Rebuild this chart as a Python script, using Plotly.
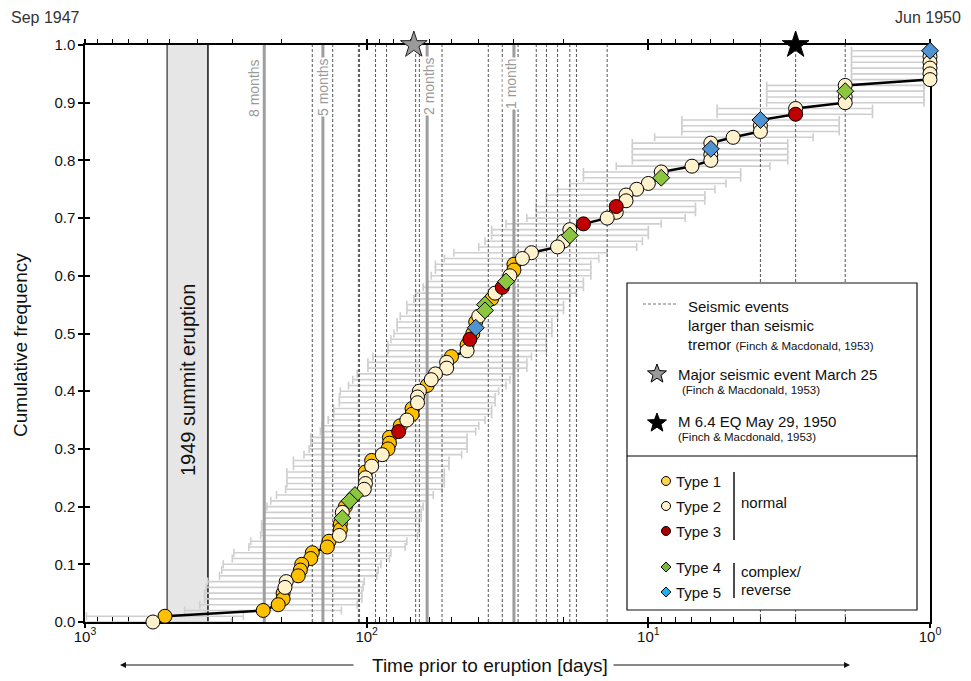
import math
import plotly.graph_objects as go

# ---------------- data ----------------
# time prior to eruption [days] for each sample, sorted (oldest first)
days = [574, 520, 233, 206, 198, 198, 195, 193, 175, 172,
        170, 158, 156, 138, 136, 125, 124, 124, 122, 122,
        119, 115, 110, 102, 101, 101, 101, 96, 96, 88,
        84, 83, 83, 77, 76, 72, 69, 69, 66, 66,
        65, 61, 59, 57, 52, 52, 50, 44, 44, 43,
        42, 41, 41, 40, 38, 38, 36, 35, 33, 32,
        31, 30, 30, 28, 26, 21, 20, 19, 19, 17,
        14, 13, 13, 12, 12, 11, 10, 9, 9, 7,
        6, 6, 6, 6, 5, 4, 4, 4, 3, 3,
        2, 2, 2, 2, 1, 1, 1, 1, 1, 1]

cum_freq = [0.00, 0.01, 0.02, 0.03, 0.04, 0.05, 0.06, 0.07, 0.08, 0.09,
            0.10, 0.11, 0.12, 0.13, 0.14, 0.15, 0.16, 0.17, 0.18, 0.19,
            0.20, 0.21, 0.22, 0.23, 0.24, 0.25, 0.26, 0.27, 0.28, 0.29,
            0.30, 0.31, 0.32, 0.33, 0.34, 0.35, 0.36, 0.37, 0.38, 0.39,
            0.40, 0.41, 0.42, 0.43, 0.44, 0.45, 0.46, 0.47, 0.48, 0.49,
            0.50, 0.51, 0.52, 0.53, 0.54, 0.55, 0.56, 0.57, 0.58, 0.59,
            0.60, 0.61, 0.62, 0.63, 0.64, 0.65, 0.66, 0.67, 0.68, 0.69,
            0.70, 0.71, 0.72, 0.73, 0.74, 0.75, 0.76, 0.77, 0.78, 0.79,
            0.80, 0.81, 0.82, 0.83, 0.84, 0.85, 0.86, 0.87, 0.88, 0.89,
            0.90, 0.91, 0.92, 0.93, 0.94, 0.95, 0.96, 0.97, 0.98, 0.99]

zoning_type = [2, 1, 1, 1, 1, 1, 2, 2, 1, 1,
               1, 1, 1, 1, 1, 2, 1, 1, 4, 2,
               1, 4, 4, 2, 2, 2, 1, 2, 1, 2,
               1, 1, 1, 3, 1, 2, 1, 1, 2, 2,
               2, 1, 2, 2, 2, 2, 1, 2, 1, 3,
               1, 5, 1, 2, 4, 4, 1, 2, 3, 4,
               2, 1, 1, 2, 2, 2, 2, 4, 2, 3,
               2, 2, 3, 2, 2, 2, 2, 4, 2, 2,
               2, 2, 5, 2, 2, 2, 2, 5, 3, 2,
               2, 2, 4, 2, 2, 2, 2, 2, 2, 5]

# uncertainty range of each sample [days]
range_old = [1091, 988, 443, 391, 376, 376, 371, 367, 333, 327,
             323, 300, 296, 262, 258, 238, 236, 236, 232, 232,
             226, 219, 209, 194, 192, 192, 192, 182, 182, 167,
             160, 158, 158, 146, 144, 137, 131, 131, 125, 125,
             124, 116, 112, 108, 99, 99, 95, 84, 84, 82,
             80, 78, 78, 76, 72, 72, 68, 67, 63, 61,
             59, 57, 57, 53, 49, 40, 38, 36, 36, 32,
             27, 25, 25, 23, 23, 21, 19, 17, 17, 13,
             11.4, 11.4, 11.4, 11.4, 9.5, 7.6, 7.6, 7.6, 5.7, 5.7,
             3.8, 3.8, 3.8, 3.8, 1.9, 1.9, 1.9, 1.9, 1.9, 1.9]
range_young = [302, 274, 123, 108, 104, 104, 103, 102, 92, 91,
               89, 83, 82, 73, 72, 66, 65, 65, 64, 64,
               63, 61, 58, 54, 53, 53, 53, 51, 51, 46,
               44, 44, 44, 41, 40, 38, 36, 36, 35, 35,
               34, 32, 31, 30, 27, 27, 26, 23, 23, 23,
               22, 22, 22, 21, 20, 20, 19, 18, 17, 17,
               16, 16, 16, 15, 14, 11, 10.5, 10, 10, 9,
               7.4, 6.8, 6.8, 6.3, 6.3, 5.8, 5.3, 4.7, 4.7, 3.7,
               3.2, 3.2, 3.2, 3.2, 2.6, 2.1, 2.1, 2.1, 1.6, 1.6,
               1.05, 1.05, 1.05, 1.05, 0.53, 0.53, 0.53, 0.53, 0.53, 0.53]

# seismic events larger than tremor [days before eruption]
seismic_days = [156, 132, 107, 106, 93, 85, 67, 65, 54, 37,
                33, 29, 25, 23, 21, 19, 18, 14, 4, 3, 2]
month_days = [231, 143, 61, 30]
month_labels = ["8 months", "5 months", "2 months", "1 month"]
summit_eruption_1949 = [511, 366]
major_event_day = [68]
eq_day = [3]

x_tickvals = [1000, 100, 10, 1]
x_ticktext = ["10<sup>3</sup>", "10<sup>2</sup>", "10<sup>1</sup>", "10<sup>0</sup>"]
x_minor = [m * 10 ** e for e in (0, 1, 2) for m in range(2, 10)]

type_colors = {1: "#FFC000", 2: "#FFF2CC", 3: "#C00000", 4: "#8CC63F", 5: "#4F93D3"}
legend_colors = {1: "#FFD24F", 2: "#FFF2CC", 3: "#A80000", 4: "#7DB83A", 5: "#1CB4E8"}

# ---------------- geometry helpers (plot area in window pixels) ----------------
PL, PR, PT, PB = 85, 930, 45, 622
BODY = 8            # default page margin around the figure
FIG_W, FIG_H = 963, 673


def fx(px):
    return (px - PL) / (PR - PL)


def fy(py):
    return (PB - py) / (PB - PT)


FONT = "Liberation Sans, Arial, sans-serif"

fig = go.Figure()

# 1949 summit eruption band
e0, e1 = summit_eruption_1949
fig.add_trace(go.Scatter(x=[e0, e1, e1, e0, e0], y=[0, 0, 1, 1, 0], mode="lines",
                         fill="toself", fillcolor="#e6e6e6", line=dict(width=0),
                         hoverinfo="skip"))
fig.add_trace(go.Scatter(x=[e0, e0], y=[0, 1], mode="lines",
                         line=dict(color="#555555", width=1.5), hoverinfo="skip"))
fig.add_trace(go.Scatter(x=[e1, e1], y=[0, 1], mode="lines",
                         line=dict(color="#111111", width=1.5), hoverinfo="skip"))

# uncertainty bars
fig.add_trace(go.Scatter(
    x=days, y=cum_freq, mode="markers",
    marker=dict(size=1, color="rgba(0,0,0,0)"),
    error_x=dict(type="data", symmetric=False,
                 array=[o - d for o, d in zip(range_old, days)],
                 arrayminus=[d - y for y, d in zip(range_young, days)],
                 color="#cfcfcf", thickness=1.6, width=4),
    hoverinfo="skip"))

# month reference lines
mx, my = [], []
for d in month_days:
    mx += [d, d, None]
    my += [0, 1, None]
fig.add_trace(go.Scatter(x=mx, y=my, mode="lines",
                         line=dict(color="#9e9e9e", width=3), hoverinfo="skip"))

# seismic events
sx, sy = [], []
for d in seismic_days:
    sx += [d, d, None]
    sy += [0, 1, None]
fig.add_trace(go.Scatter(x=sx, y=sy, mode="lines",
                         line=dict(color="#555555", width=1, dash="3px,2px"),
                         hoverinfo="skip"))

# cumulative curve
fig.add_trace(go.Scatter(x=days, y=cum_freq, mode="lines",
                         line=dict(color="black", width=2.5), hoverinfo="skip"))

# samples by type (lower ranks drawn on top)
for t in (1, 2, 3, 4, 5):
    idx = [i for i in range(len(days)) if zoning_type[i] == t][::-1]
    fig.add_trace(go.Scatter(
        x=[days[i] for i in idx], y=[cum_freq[i] for i in idx], mode="markers",
        cliponaxis=False,
        marker=dict(symbol="circle" if t <= 3 else "diamond",
                    size=14 if t <= 3 else 13,
                    color=type_colors[t], line=dict(color="black", width=1)),
        hoverinfo="skip"))

# stars on top axis
fig.add_trace(go.Scatter(x=major_event_day, y=[1.0], mode="markers", cliponaxis=False,
                         marker=dict(symbol="star", size=20, color="#9a9a9a",
                                     line=dict(color="#222", width=1)), hoverinfo="skip"))
fig.add_trace(go.Scatter(x=eq_day, y=[1.0], mode="markers", cliponaxis=False,
                         marker=dict(symbol="star", size=20, color="black",
                                     line=dict(color="black", width=1)), hoverinfo="skip"))

# dummy traces to realise the extra tick axes
for xa, ya in (("x2", "y"), ("x3", "y"), ("x4", "y"), ("x", "y2")):
    fig.add_trace(go.Scatter(x=[10], y=[0.5], xaxis=xa, yaxis=ya, mode="markers",
                             marker=dict(size=1, color="rgba(0,0,0,0)"), hoverinfo="skip"))

# ---------------- axes ----------------
base_x = dict(type="log", range=[3, 0], showgrid=False, zeroline=False, layer="below traces")
fig.update_layout(
    xaxis=dict(**base_x, showline=True, linecolor="black", linewidth=1.5, mirror=True,
               tickmode="array", tickvals=x_tickvals, ticktext=x_ticktext,
               ticks="inside", ticklen=5, tickwidth=1.5, tickcolor="black",
               tickfont=dict(family=FONT, size=15, color="#111"),
               minor=dict(tickmode="array", tickvals=x_minor, ticks="inside",
                          ticklen=5, tickwidth=1.3, tickcolor="black", showgrid=False)),
    xaxis2=dict(**base_x, overlaying="x", side="bottom", anchor="y", showline=False,
                tickmode="array", tickvals=x_tickvals, ticks="outside", ticklen=5,
                tickwidth=1.5, tickcolor="black", showticklabels=False),
    xaxis3=dict(**base_x, overlaying="x", side="top", anchor="y", showline=False,
                tickmode="array", tickvals=x_tickvals, ticks="outside", ticklen=5,
                tickwidth=1.5, tickcolor="black", showticklabels=False,
                minor=dict(tickmode="array", tickvals=x_minor, ticks="outside",
                           ticklen=5, tickwidth=1.3, tickcolor="black", showgrid=False)),
    xaxis4=dict(**base_x, overlaying="x", side="top", anchor="y", showline=False,
                tickmode="array", tickvals=x_tickvals, ticks="inside", ticklen=5,
                tickwidth=1.5, tickcolor="black", showticklabels=False),
    yaxis=dict(range=[0, 1], showgrid=False, zeroline=False, showline=True,
               linecolor="black", linewidth=1.5, mirror=True, layer="below traces",
               tickmode="linear", tick0=0, dtick=0.1, tickformat=".1f",
               ticks="outside", ticklen=5, tickwidth=1.5, tickcolor="black",
               tickfont=dict(family=FONT, size=15, color="#111")),
    yaxis2=dict(range=[0, 1], overlaying="y", side="left", anchor="x", showgrid=False,
                zeroline=False, showline=False, layer="below traces",
                tickmode="linear", tick0=0, dtick=0.1, ticks="inside", ticklen=5,
                tickwidth=1.5, tickcolor="black", showticklabels=False),
)

# ---------------- annotations ----------------
ann = []


def text(px, py, s, size=15, color="#111", xanchor="left", angle=0, bg=None):
    d = dict(xref="paper", yref="paper", x=fx(px), y=fy(py), text=s, showarrow=False,
             xanchor=xanchor, yanchor="middle", textangle=angle,
             font=dict(family=FONT, size=size, color=color))
    if bg:
        d["bgcolor"] = bg
        d["borderpad"] = 0
    ann.append(d)


text(45, 18, "Sep 1947", 16, "#333", "center")
text(928, 18, "Jun 1950", 16, "#333", "center")
text(490, 665, "Time prior to eruption [days]", 19, "#111", "center")
text(20, 345, "Cumulative frequency", 19, "#111", "center", -90)
text(188, 380, "1949 summit eruption", 20, "#111", "center", -90)

month_px = [254, 323, 429, 511]
month_py = [88, 87, 86, 84]
for lab, px, py in zip(month_labels, month_px, month_py):
    text(px, py, lab, 14, "#9a9a9a", "center", -90, None if lab == "8 months" else "white")

# arrows beside the x title
ann.append(dict(xref="paper", yref="paper", x=fx(120), y=fy(665), ax=235, ay=0, text="",
                showarrow=True, arrowhead=2, arrowsize=1, arrowwidth=1.2, arrowcolor="#111"))
ann.append(dict(xref="paper", yref="paper", x=fx(850), y=fy(665), ax=-238, ay=0, text="",
                showarrow=True, arrowhead=2, arrowsize=1, arrowwidth=1.2, arrowcolor="#111"))

# legend texts
small = "font-size:11.5px"
text(686, 306, "Seismic events")
text(686, 325, "larger than seismic")
text(686, 344, f"tremor <span style='{small}'>(Finch & Macdonald, 1953)</span>")
text(676, 374, "Major seismic event March 25")
text(680, 390, "(Finch & Macdonald, 1953)", 11.5)
text(676, 421, "M 6.4 EQ May 29, 1950")
text(676, 437, "(Finch & Macdonald, 1953)", 11.5)
for k, py in zip((1, 2, 3, 4, 5), (481, 506, 531, 567, 592)):
    text(674, py, f"Type {k}")
text(739, 502, "normal")
text(739, 571, "complex/")
text(739, 589, "reverse")

# ---------------- legend shapes ----------------
shapes = []


def pline(x0, y0, x1, y1, color="black", width=1.2, dash=None):
    s = dict(type="line", xref="paper", yref="paper", x0=fx(x0), y0=fy(y0), x1=fx(x1), y1=fy(y1),
             line=dict(color=color, width=width), layer="above")
    if dash:
        s["line"]["dash"] = dash
    shapes.append(s)


def ppath(points, fill, lw=1):
    p = "M " + " L ".join(f"{fx(a):.5f},{fy(b):.5f}" for a, b in points) + " Z"
    shapes.append(dict(type="path", xref="paper", yref="paper", path=p, fillcolor=fill,
                       line=dict(color="black", width=lw), layer="above"))


def star(cx, cy, ro, ri):
    pts = []
    for k in range(10):
        r = ro if k % 2 == 0 else ri
        a = math.pi / 2 + k * math.pi / 5
        pts.append((cx + r * math.cos(a), cy - r * math.sin(a)))
    return pts


shapes.append(dict(type="rect", xref="paper", yref="paper", x0=fx(627), x1=fx(917),
                   y0=fy(610), y1=fy(283), fillcolor="white",
                   line=dict(color="#111", width=1.2), layer="above"))
pline(627, 456, 917, 456)
pline(643, 304, 677, 304, "#777", 1, "3px,2px")
ppath(star(657, 374, 10, 4.2), "#9a9a9a")
ppath(star(657, 423, 10, 4.2), "black")
for k, py in zip((1, 2, 3), (481, 506, 531)):
    shapes.append(dict(type="circle", xref="paper", yref="paper", x0=fx(661.5), x1=fx(670.5),
                       y0=fy(py + 4.5), y1=fy(py - 4.5), fillcolor=legend_colors[k],
                       line=dict(color="black", width=1), layer="above"))
for k, py in zip((4, 5), (567, 592)):
    ppath([(666, py - 5), (671, py), (666, py + 5), (661, py)], legend_colors[k])
pline(734, 472, 734, 540, "#111", 1.5)
pline(734, 563, 734, 598, "#111", 1.5)

fig.update_layout(
    width=FIG_W, height=FIG_H, autosize=False,
    margin=dict(l=PL - BODY, r=FIG_W + BODY - PR, t=PT - BODY, b=FIG_H + BODY - PB, pad=0),
    plot_bgcolor="white", paper_bgcolor="white",
    showlegend=False, hovermode=False,
    annotations=ann, shapes=shapes,
    font=dict(family=FONT, size=14, color="#111"),
)

fig.write_html("out.html")
